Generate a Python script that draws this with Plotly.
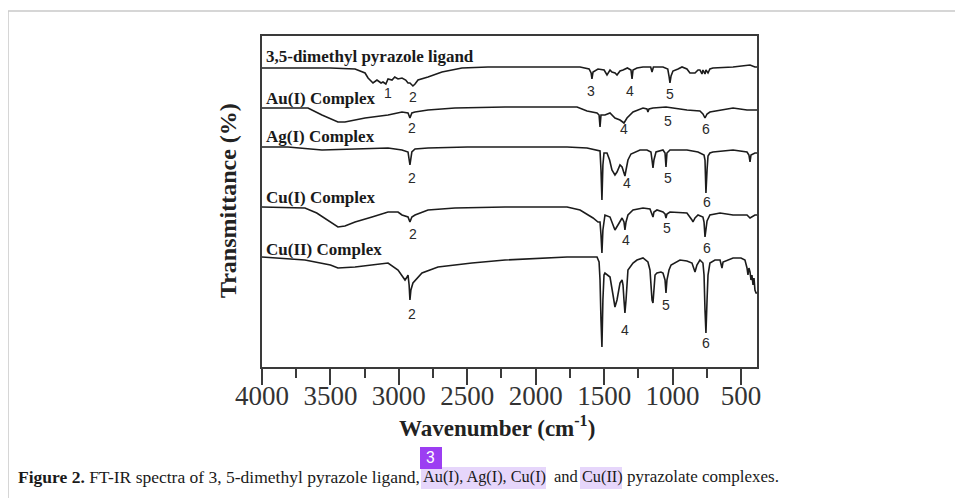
import plotly.graph_objects as go

# ---------------- data (wavenumber cm-1, offset transmittance) ----------------
lig_wn = [4000, 3810, 3500, 3320, 3247, 3225, 3189, 3160, 3130, 3116, 3095, 3079, 3050, 3030, 3006, 2977, 2950, 2933,
          2919, 2897, 2882, 2860, 2831, 2787, 2685, 2539, 2349, 2224, 1771, 1676, 1610, 1595, 1589, 1581, 1545, 1500,
          1479, 1457, 1443, 1420, 1406, 1384, 1362, 1330, 1304, 1296, 1289, 1260, 1216, 1160, 1150, 1140, 1070, 1035,
          1026, 1019, 1011, 997, 960, 931, 895, 873, 851, 836, 814, 800, 785, 778, 763, 756, 741, 727, 705, 558, 434,
          398, 383]
lig_t = [299, 299, 299, 298, 294, 289, 284, 287, 284, 285, 283, 288, 287, 290, 288, 289, 287, 284,
         284, 281, 283, 287, 288, 290, 295, 299, 300, 300, 300, 300, 298, 294, 288, 295, 298, 297,
         292, 297, 295, 294, 292, 296, 297, 299, 297, 288, 297, 299, 300, 300, 295, 300, 300, 298,
         291, 284, 291, 296, 298, 300, 298, 294, 294, 294, 297, 297, 293, 297, 293, 297, 294, 298, 299, 300, 302,
         300, 300]

au_wn = [4000, 3664, 3562, 3500, 3445, 3394, 3320, 3247, 3079, 2977, 2933, 2919, 2905, 2882, 2787, 2590, 2224, 1698,
         1625, 1552, 1537, 1530, 1523, 1494, 1457, 1421, 1384, 1355, 1333, 1289, 1216, 1187, 1180, 1172, 1143, 1048,
         997, 895, 800, 778, 763, 748, 727, 653, 558, 456, 383]
au_t = [259, 259, 252, 248, 245, 245, 247, 249, 252, 255, 254, 249, 254, 255, 257, 259, 260, 260,
        256, 254, 252, 240, 252, 252, 254, 249, 247, 244, 249, 255, 259, 258, 255, 258, 259, 260,
        259, 257, 256, 253, 249, 253, 255, 257, 259, 257, 257]

ag_wn = [4000, 3810, 3562, 3320, 3079, 2977, 2933, 2919, 2905, 2882, 2787, 2500, 1771, 1625, 1552, 1530, 1523, 1516,
         1509, 1501, 1479, 1460, 1443, 1421, 1406, 1384, 1369, 1355, 1348, 1340, 1326, 1304, 1289, 1238, 1187, 1158,
         1150, 1143, 1136, 1121, 1070, 1055, 1048, 1041, 1019, 895, 814, 770, 763, 756, 748, 741, 727, 705, 558, 456,
         442, 434, 427, 398, 383]
ag_t = [220, 220, 217, 218, 219, 217, 215, 202, 215, 218, 219, 220, 220, 219, 217, 216, 197, 167,
        202, 214, 214, 207, 197, 192, 195, 202, 200, 194, 191, 197, 207, 213, 214, 217, 217, 215,
        207, 199, 207, 215, 217, 214, 200, 214, 217, 217, 215, 212, 207, 174, 197, 211, 214, 215, 217, 215,
        212, 205, 212, 214, 214]

cu1_wn = [4000, 3686, 3600, 3500, 3445, 3394, 3320, 3196, 3079, 3006, 2977, 2933, 2919, 2905, 2882, 2787, 2590, 2224,
          1771, 1676, 1581, 1545, 1530, 1523, 1516, 1509, 1494, 1457, 1435, 1421, 1399, 1369, 1355, 1348, 1340, 1326,
          1289, 1216, 1165, 1150, 1143, 1136, 1114, 1070, 1055, 1048, 1041, 1019, 895, 858, 851, 836, 814, 778, 770,
          763, 756, 748, 727, 653, 558, 456, 434, 398, 383]
cu1_t = [160, 159, 154, 145, 140, 141, 145, 150, 155, 155, 152, 150, 145, 150, 152, 157, 159, 160,
         160, 157, 149, 145, 145, 132, 114, 137, 152, 150, 142, 137, 142, 149, 145, 137, 145, 152,
         157, 159, 158, 153, 150, 155, 157, 155, 153, 149, 153, 155, 154, 147, 145, 149, 152, 150, 145,
         130, 139, 146, 152, 154, 152, 152, 149, 152, 152]

cu2_wn = [4000, 3686, 3500, 3445, 3320, 3079, 3006, 2970, 2955, 2940, 2933, 2925, 2919, 2912, 2897, 2831, 2714, 2466,
          2224, 1771, 1552, 1537, 1530, 1523, 1516, 1509, 1501, 1494, 1472, 1457, 1435, 1421, 1406, 1399, 1384, 1369,
          1362, 1355, 1348, 1340, 1333, 1326, 1289, 1260, 1216, 1180, 1165, 1158, 1150, 1143, 1136, 1128, 1114, 1085,
          1070, 1055, 1048, 1041, 1026, 1011, 946, 895, 858, 844, 836, 822, 800, 778, 770, 763, 756, 748, 741, 727,
          690, 653, 646, 639, 631, 600, 558, 500, 471, 456, 449, 442, 434, 427, 420, 412, 405, 398, 390, 383]
cu2_t = [110, 107, 102, 99, 100, 104, 97, 90, 87, 90, 92, 82, 67, 77, 84, 94, 100, 104,
         107, 110, 110, 105, 87, 47, 20, 67, 92, 94, 92, 90, 72, 60, 67, 74, 84, 87,
         82, 67, 54, 67, 87, 97, 104, 107, 109, 105, 97, 82, 67, 64, 77, 92, 94, 95,
         94, 87, 74, 87, 97, 102, 107, 106, 104, 99, 95, 102, 107, 104, 92, 57, 34, 67, 92, 104,
         107, 107, 104, 99, 105, 107, 109, 109, 107, 99, 92, 99, 95, 87, 92, 82, 89, 77, 74, 74]

series_names = ["3,5-dimethyl pyrazole ligand", "Au(I) Complex", "Ag(I) Complex", "Cu(I) Complex", "Cu(II) Complex"]
series_label_t = [311, 269, 231, 170, 118]

# peak numbering labels
lig_pk = ["1", "2", "3", "4", "5"];  lig_pk_wn = [3079, 2897, 1596, 1311, 1019]; lig_pk_t = [274, 270, 276, 276, 273]
au_pk = ["2", "4", "5", "6"];        au_pk_wn = [2904, 1355, 1033, 756];         au_pk_t = [239, 238, 246, 238]
ag_pk = ["2", "4", "5", "6"];        ag_pk_wn = [2904, 1333, 1033, 748];         ag_pk_t = [189, 184, 189, 165]
cu1_pk = ["2", "4", "5", "6"];       cu1_pk_wn = [2897, 1340, 1041, 748];        cu1_pk_t = [133, 127, 139, 119]
cu2_pk = ["2", "4", "5", "6"];       cu2_pk_wn = [2904, 1348, 1048, 756];        cu2_pk_t = [53, 37, 62, 24]

x_ticks = [4000, 3500, 3000, 2500, 2000, 1500, 1000, 500]

# ---------------- figure ----------------
LINE = "#1c1c1c"
FRAME = "#3a3a3a"
SERIF = "Liberation Serif, Times New Roman, serif"
SANS = "Liberation Sans, Arial, sans-serif"

fig = go.Figure()
for wn, t in [(lig_wn, lig_t), (au_wn, au_t), (ag_wn, ag_t), (cu1_wn, cu1_t), (cu2_wn, cu2_t)]:
    if len(wn) != len(t):
        raise ValueError("length mismatch %d %d" % (len(wn), len(t)))
    fig.add_trace(go.Scatter(x=wn, y=t, mode="lines", line=dict(color=LINE, width=1.6),
                             showlegend=False, hoverinfo="skip"))

annotations = []
for name, yt in zip(series_names, series_label_t):
    annotations.append(dict(x=0.004, xref="paper", y=yt, yref="y", text="<b>%s</b>" % name,
                            showarrow=False, xanchor="left", yanchor="middle",
                            font=dict(family=SERIF, size=17, color="#1a1a1a")))

for labels, wns, ts in [(lig_pk, lig_pk_wn, lig_pk_t), (au_pk, au_pk_wn, au_pk_t), (ag_pk, ag_pk_wn, ag_pk_t),
                        (cu1_pk, cu1_pk_wn, cu1_pk_t), (cu2_pk, cu2_pk_wn, cu2_pk_t)]:
    for lab, w, t in zip(labels, wns, ts):
        annotations.append(dict(x=w, y=t, xref="x", yref="y", text=lab, showarrow=False,
                                xanchor="center", yanchor="middle",
                                font=dict(family=SANS, size=14, color="#2a2a2a")))

# axis titles
annotations.append(dict(x=0.4747, y=-0.18, xref="paper", yref="paper", text="<b>Wavenumber (cm<sup>-1</sup>)</b>",
                        showarrow=False, xanchor="center", yanchor="middle",
                        font=dict(family=SERIF, size=23, color="#222")))
annotations.append(dict(x=-0.0687, y=0.5045, xref="paper", yref="paper", text="<b>Transmittance (%)</b>",
                        showarrow=False, xanchor="center", yanchor="middle", textangle=-90,
                        font=dict(family=SERIF, size=24, color="#222")))

# caption (page text)
cap_y = -0.3323
cap_parts = [(-0.4949, "<b>Figure 2.</b> FT-IR spectra of 3, 5-dimethyl pyrazole ligand,", 17.5),
             (0.3232, "Au(I), Ag(I), Cu(I)", 16.3),
             (0.5879, "and", 16.5),
             (0.6444, "Cu(II)", 16.3),
             (0.7354, "pyrazolate complexes.", 17)]
for xp, txt, sz in cap_parts:
    annotations.append(dict(x=xp, y=cap_y, xref="paper", yref="paper", text=txt, showarrow=False,
                            xanchor="left", yanchor="middle",
                            font=dict(family=SERIF, size=sz, color="#1a1a1a"), borderpad=0))
annotations.append(dict(x=0.3414, y=-0.2749, xref="paper", yref="paper", text="3", showarrow=False,
                        xanchor="center", yanchor="middle", font=dict(family="Roboto, sans-serif", size=16, color="white")))

shapes = [
    # page frame lines
    dict(type="line", xref="paper", yref="paper", x0=-0.5131, x1=1.4162, y0=1.0755, y1=1.0755,
         line=dict(color="#c9c9c9", width=1.5), layer="below"),
    dict(type="line", xref="paper", yref="paper", x0=-0.5131, x1=-0.5131, y0=1.0755, y1=-0.3958,
         line=dict(color="#c9c9c9", width=1.5), layer="below"),
    # highlights
    dict(type="rect", xref="paper", yref="paper", x0=0.3212, x1=0.5737, y0=-0.3686, y1=-0.3021,
         fillcolor="#e6d6fb", line=dict(width=0), layer="below"),
    dict(type="rect", xref="paper", yref="paper", x0=0.6424, x1=0.7273, y0=-0.3686, y1=-0.3021,
         fillcolor="#e6d6fb", line=dict(width=0), layer="below"),
    # badge
    dict(type="rect", xref="paper", yref="paper", x0=0.3192, x1=0.3636, y0=-0.3082, y1=-0.2417,
         fillcolor="#9c3ef2", line=dict(width=0)),
]

# the page body adds an 8px margin, so the figure is 8px smaller and shifted
fig.update_layout(
    width=955, height=490,
    margin=dict(l=254, r=206, t=28, b=131, pad=0),
    paper_bgcolor="white", plot_bgcolor="white",
    showlegend=False,
    annotations=annotations,
    shapes=shapes,
    xaxis=dict(range=[4000, 383], tickmode="array", tickvals=x_ticks, ticktext=[str(v) for v in x_ticks],
               ticks="outside", ticklen=16, tickwidth=2, tickcolor=FRAME, ticklabelstandoff=-12,
               minor=dict(dtick=250, tick0=0, ticks="outside", ticklen=9, tickwidth=2, tickcolor=FRAME, showgrid=False),
               showline=True, linecolor=FRAME, linewidth=2, mirror=True,
               showgrid=False, zeroline=False,
               tickfont=dict(family=SERIF, size=27, color="#333")),
    yaxis=dict(range=[0, 331], showticklabels=False, ticks="", showline=True, linecolor=FRAME,
               linewidth=2, mirror=True, showgrid=False, zeroline=False),
)

fig.write_html("out.html")
